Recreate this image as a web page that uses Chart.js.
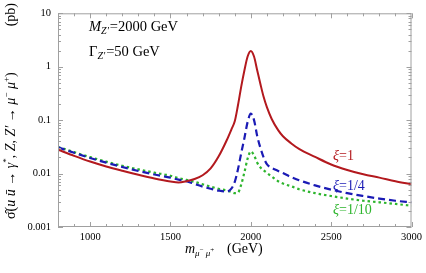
<!DOCTYPE html>
<html>
<head>
<meta charset="utf-8">
<script src="https://cdn.jsdelivr.net/npm/chart.js@4.4.1/dist/chart.umd.min.js"></script>
<style>
  body { margin: 0; background: #fff; }
</style>
</head>
<body>
<canvas id="chart" width="426" height="273"></canvas>
<script>
// dimuon invariant mass (GeV)
const mass = [800, 900, 1000, 1100, 1200, 1300, 1400, 1500, 1550, 1600, 1650, 1700, 1750, 1800, 1850, 1880,
  1900, 1920, 1940, 1960, 1980, 2000, 2020, 2040, 2060, 2080, 2100, 2130, 2170, 2200, 2250, 2300,
  2400, 2500, 2600, 2700, 2800, 2900, 3000];

// cross sections in pb
const xi1 = [0.028, 0.0215, 0.0168, 0.0136, 0.0113, 0.0095, 0.0081, 0.0071, 0.0068, 0.0072, 0.0079, 0.0093, 0.0125, 0.021, 0.042, 0.068,
  0.095, 0.19, 0.42, 0.85, 1.55, 1.98, 1.55, 0.85, 0.47, 0.27, 0.175, 0.105, 0.065, 0.05, 0.037, 0.029,
  0.0205, 0.0148, 0.0117, 0.0097, 0.0084, 0.0072, 0.0063];
const xi4 = [0.031, 0.0245, 0.0196, 0.016, 0.0133, 0.0112, 0.0096, 0.0084, 0.0077, 0.0072, 0.0064, 0.0057, 0.0052, 0.0048, 0.0046, 0.0053,
  0.007, 0.012, 0.024, 0.046, 0.092, 0.132, 0.1, 0.05, 0.03, 0.02, 0.015, 0.0128, 0.0112, 0.0102, 0.0086, 0.0075,
  0.006, 0.005, 0.0043, 0.0038, 0.0034, 0.0031, 0.0029];
const xi10 = [0.0315, 0.0252, 0.0203, 0.0167, 0.014, 0.012, 0.0104, 0.0091, 0.0082, 0.0076, 0.007, 0.0063, 0.0057, 0.0052, 0.0048, 0.0045,
  0.0043, 0.0044, 0.0062, 0.0105, 0.019, 0.026, 0.022, 0.016, 0.013, 0.0115, 0.0103, 0.0088, 0.0072, 0.0065, 0.0058, 0.0051,
  0.0043, 0.0038, 0.0034, 0.0031, 0.0029, 0.0027, 0.0025];

const xTicks = [1000, 1500, 2000, 2500, 3000];
const yTicks = [0.001, 0.01, 0.1, 1, 10];
const yTickLabels = ['0.001', '0.01', '0.1', '1', '10'];

const serif = '"Liberation Serif", "DejaVu Serif", serif';
const red = '#b3191e';
const blue = '#1b1bb5';
const green = '#2db52d';

// draw a run of text pieces side by side (for sub/superscripts), returns end x
function rich(ctx, parts, x, y) {
  parts.forEach(p => {
    const size = p.size || 14;
    ctx.font = (p.it ? 'italic ' : '') + size + 'px ' + serif;
    ctx.fillText(p.t, x, y + (p.dy || 0));
    x += ctx.measureText(p.t).width;
  });
  return x;
}

// gray frame with inward ticks on all four sides
const frame = {
  id: 'frame',
  afterDraw(chart) {
    const { ctx, chartArea: a, scales } = chart;
    ctx.save();
    ctx.strokeStyle = '#a0a0a0';
    ctx.lineWidth = 1;
    ctx.strokeRect(a.left + 0.5, a.top + 0.5, a.right - a.left - 1, a.bottom - a.top - 1);
    ctx.beginPath();
    for (let m = 800; m <= 3000; m += 100) {
      const px = Math.round(scales.x.getPixelForValue(m)) + 0.5;
      const len = m % 500 === 0 ? 5 : 3;
      ctx.moveTo(px, a.bottom); ctx.lineTo(px, a.bottom - len);
      ctx.moveTo(px, a.top); ctx.lineTo(px, a.top + len);
    }
    for (let d = -3; d <= 1; d++) {
      for (let k = 1; k <= 9; k++) {
        if (d === 1 && k > 1) break;
        const py = Math.round(scales.y.getPixelForValue(k * Math.pow(10, d))) + 0.5;
        const len = k === 1 ? 5 : 3;
        ctx.moveTo(a.left, py); ctx.lineTo(a.left + len, py);
        ctx.moveTo(a.right, py); ctx.lineTo(a.right - len, py);
      }
    }
    ctx.stroke();
    ctx.restore();
  }
};

// annotations and axis titles
const labels = {
  id: 'labels',
  afterDraw(chart) {
    const ctx = chart.ctx;
    ctx.save();
    ctx.textBaseline = 'alphabetic';
    ctx.fillStyle = '#000';

    let x = rich(ctx, [{ t: 'M', it: true, size: 14.5 }, { t: 'Z′', it: true, size: 10, dy: 3 }], 89, 31);
    rich(ctx, [{ t: '=2000 GeV', size: 14.5 }], x + 1, 31);
    x = rich(ctx, [{ t: 'Γ', size: 14.5 }, { t: 'Z′', it: true, size: 10, dy: 3 }], 89, 56);
    rich(ctx, [{ t: '=50 GeV', size: 14.5 }], x + 1, 56);

    ctx.fillStyle = red;
    rich(ctx, [{ t: 'ξ', it: true }, { t: '=1' }], 333, 160);
    ctx.fillStyle = blue;
    rich(ctx, [{ t: 'ξ', it: true }, { t: '=1/4' }], 333, 190);
    ctx.fillStyle = green;
    rich(ctx, [{ t: 'ξ', it: true }, { t: '=1/10' }], 333, 214);

    ctx.fillStyle = '#000';
    rich(ctx, [{ t: 'm', it: true }, { t: 'μ', it: true, size: 9, dy: 3 }, { t: '−', size: 7, dy: -1 },
      { t: ' μ', it: true, size: 9, dy: 3 }, { t: '+', size: 7, dy: -1 }], 185, 253);
    rich(ctx, [{ t: '(GeV)' }], 227, 253);

    ctx.translate(15, 219);
    ctx.rotate(-Math.PI / 2);
    rich(ctx, [{ t: 'σ̂' }, { t: '(' }, { t: 'u', it: true }, { t: ' ' }, { t: 'ū', it: true }, { t: ' → ' },
      { t: 'γ', it: true }, { t: '*', size: 9, dy: -6 }, { t: ', ' }, { t: 'Z', it: true }, { t: ', ' },
      { t: 'Z′', it: true }, { t: ' → ' }, { t: 'μ', it: true }, { t: '−', size: 9, dy: -6 }, { t: ' ' },
      { t: 'μ', it: true }, { t: '+', size: 9, dy: -6 }, { t: ')' }], 0, 0);
    ctx.font = '14px ' + serif;
    ctx.textAlign = 'right';
    ctx.fillText('(pb)', 216, 0);
    ctx.restore();
  }
};

const pts = vals => mass.map((m, i) => ({ x: m, y: vals[i] }));

new Chart(document.getElementById('chart'), {
  type: 'line',
  data: {
    datasets: [
      { label: 'ξ=1', data: pts(xi1), borderColor: red, borderWidth: 2 },
      { label: 'ξ=1/4', data: pts(xi4), borderColor: blue, borderWidth: 2.2, borderDash: [7, 4] },
      { label: 'ξ=1/10', data: pts(xi10), borderColor: green, borderWidth: 2.2, borderDash: [2.5, 3] }
    ]
  },
  options: {
    responsive: false,
    animation: false,
    layout: { padding: { top: 6, right: 11, left: 0, bottom: 0 } },
    elements: {
      point: { radius: 0 },
      line: { cubicInterpolationMode: 'monotone', fill: false }
    },
    plugins: { legend: { display: false }, tooltip: { enabled: false } },
    scales: {
      x: {
        type: 'linear',
        min: 800,
        max: 3000,
        afterBuildTicks: s => { s.ticks = xTicks.map(v => ({ value: v })); },
        afterFit: s => { s.height = 46; },
        grid: { display: false, drawTicks: false, tickLength: 0 },
        border: { display: false },
        ticks: {
          color: '#000',
          padding: 4,
          maxRotation: 0,
          font: { family: serif, size: 10.5 },
          callback: v => String(v)
        }
      },
      y: {
        type: 'logarithmic',
        min: 0.001,
        max: 10,
        afterBuildTicks: s => { s.ticks = yTicks.map(v => ({ value: v })); },
        afterFit: s => { s.width = 58; },
        grid: { display: false, drawTicks: false, tickLength: 0 },
        border: { display: false },
        ticks: {
          color: '#000',
          padding: 7,
          font: { family: serif, size: 10.5 },
          callback: v => yTickLabels[yTicks.indexOf(v)]
        }
      }
    }
  },
  plugins: [frame, labels]
});
</script>
</body>
</html>
